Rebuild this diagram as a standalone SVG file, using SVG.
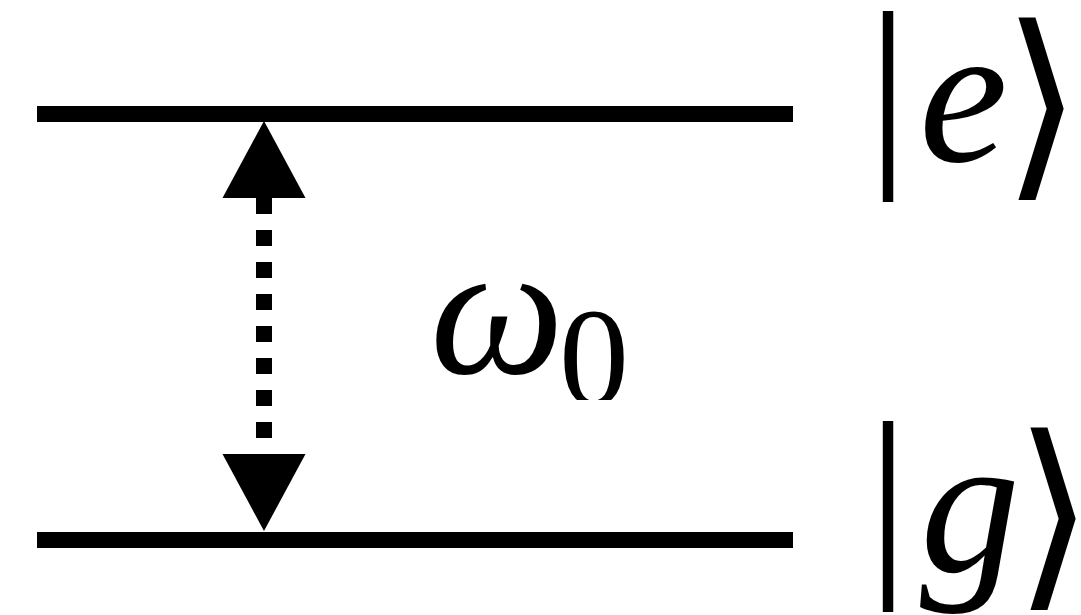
<svg xmlns="http://www.w3.org/2000/svg" width="1081" height="615" viewBox="0 0 1081 615">
  <style>
    .lvl { stroke: #000; stroke-width: 16; }
    .conn { stroke: #000; stroke-width: 16; stroke-dasharray: 16 16; fill: none; }
    .serif { font-family: 'Liberation Serif', 'Times New Roman', serif; fill: #000; }
    .it { font-style: italic; }
    .ang { font-family: 'DejaVu Sans', sans-serif; fill: #000; }
  </style>
  <defs>
    <marker id="tri" markerUnits="userSpaceOnUse" viewBox="0 -42 78 84" refX="0" refY="0" markerWidth="78" markerHeight="84" orient="auto-start-reverse">
      <path d="M0,-41.5 L77,0 L0,41.5 z" fill="#000"/>
    </marker>
    <clipPath id="clip0">
      <rect x="0" y="0" width="1081" height="400"/>
    </clipPath>
  </defs>
  <rect width="1081" height="615" fill="#fff"/>

  <g id="level-e">
    <line class="lvl" x1="37" y1="114" x2="793" y2="114"/>
    <text class="serif" x="888" y="157" font-size="210" text-anchor="middle">|</text>
    <text class="serif it" x="919" y="161" font-size="200">e</text>
    <text class="ang" x="1002" y="173" font-size="205">⟩</text>
  </g>

  <g id="level-g">
    <line class="lvl" x1="37" y1="540" x2="793" y2="540"/>
    <text class="serif" x="888" y="567" font-size="210" text-anchor="middle">|</text>
    <text class="serif it" x="920" y="572" font-size="200">g</text>
    <text class="ang" x="1014" y="583" font-size="205">⟩</text>
  </g>

  <g id="label-omega">
    <text class="serif it" x="430" y="373" font-size="190">ω</text>
    <text class="serif" x="559" y="405" font-size="140" clip-path="url(#clip0)">0</text>
  </g>

  <g id="connectors">
    <line class="conn" x1="264" y1="198" x2="264" y2="454" marker-start="url(#tri)" marker-end="url(#tri)"/>
  </g>
</svg>
